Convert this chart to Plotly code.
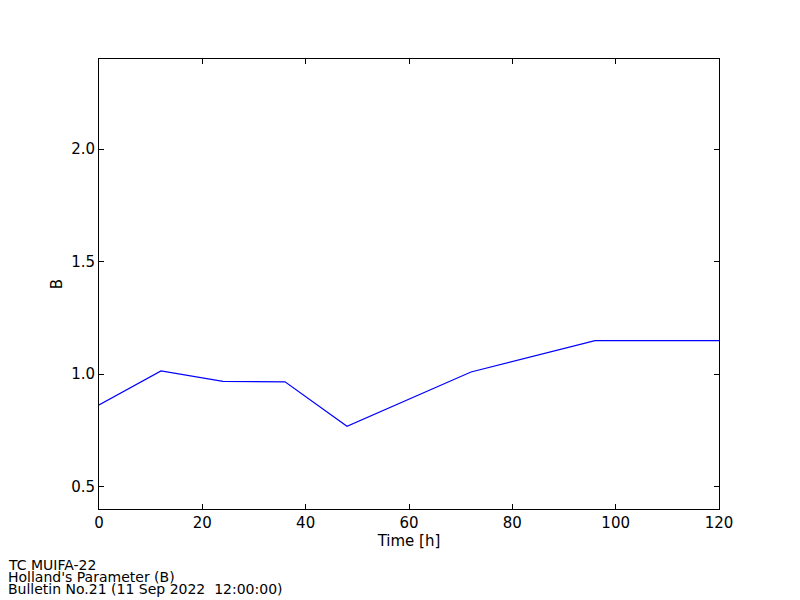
import plotly.graph_objects as go

time_h = [0, 12, 24, 36, 48, 72, 96, 120]
b_values = [0.862, 1.014, 0.967, 0.965, 0.768, 1.009, 1.148, 1.148]
x_ticks = [0, 20, 40, 60, 80, 100, 120]
y_ticks = [0.5, 1.0, 1.5, 2.0]
y_tick_labels = ["0.5", "1.0", "1.5", "2.0"]
footer_lines = ["TC MUIFA-22", "Holland's Parameter (B)", "Bulletin No.21 (11 Sep 2022  12:00:00)"]

fig = go.Figure()
fig.add_trace(go.Scatter(x=time_h, y=b_values, mode="lines",
                         line=dict(color="#0000ff", width=1.2), showlegend=False))

axis_common = dict(showline=True, linecolor="black", linewidth=1, mirror="ticks",
                   ticks="inside", ticklen=5, tickcolor="black", showgrid=False,
                   zeroline=False, tickfont=dict(family="DejaVu Sans", size=15, color="black"))

fig.update_xaxes(range=[0, 120], tickvals=x_ticks,
                 title=dict(text="Time [h]", font=dict(family="DejaVu Sans", size=15, color="black"), standoff=4),
                 **axis_common)
fig.update_yaxes(range=[0.4, 2.4], tickvals=y_ticks, ticktext=y_tick_labels,
                 title=dict(text="B", font=dict(family="DejaVu Sans", size=15, color="black"), standoff=4),
                 **axis_common)

plot_h = 450.0
plot_w = 620.0
for i, line in enumerate(footer_lines):
    fig.add_annotation(text=line, xref="paper", yref="paper",
                       x=-92 / plot_w, y=-(56 + 12 * i) / plot_h,
                       xanchor="left", yanchor="middle", showarrow=False,
                       align="left", borderpad=0,
                       font=dict(family="DejaVu Sans", size=14, color="black"))

# page body has an 8px margin, so the figure is drawn 8px in from the top-left
fig.update_layout(width=792, height=592, plot_bgcolor="white", paper_bgcolor="white",
                  margin=dict(l=91, r=81, t=51, b=91))

fig.write_html("out.html")
